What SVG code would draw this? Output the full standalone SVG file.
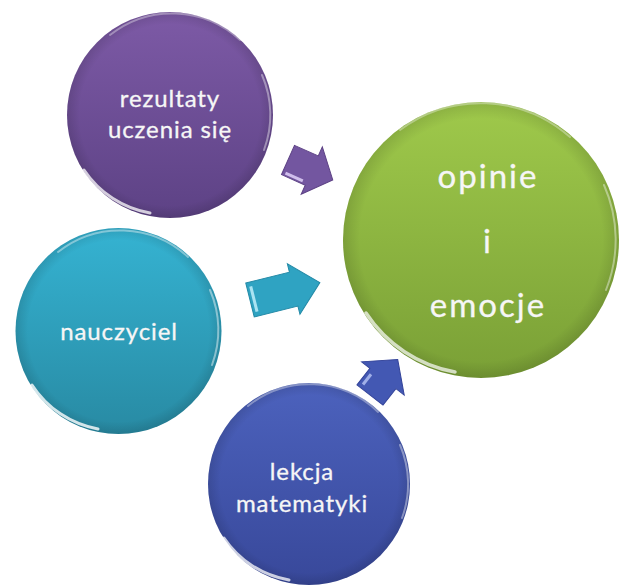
<svg xmlns="http://www.w3.org/2000/svg" width="621" height="587" viewBox="0 0 621 587">
  <defs>
    <linearGradient id="gPurple" x1="0" y1="0" x2="0" y2="1">
      <stop offset="0" stop-color="#7d5aa6"/>
      <stop offset="1" stop-color="#5d4285"/>
    </linearGradient>
    <linearGradient id="gTeal" x1="0" y1="0" x2="0" y2="1">
      <stop offset="0" stop-color="#35b3d2"/>
      <stop offset="1" stop-color="#288aa3"/>
    </linearGradient>
    <linearGradient id="gBlue" x1="0" y1="0" x2="0" y2="1">
      <stop offset="0" stop-color="#4c62bd"/>
      <stop offset="1" stop-color="#38489a"/>
    </linearGradient>
    <linearGradient id="gGreen" x1="0" y1="0" x2="0" y2="1">
      <stop offset="0" stop-color="#9fc94b"/>
      <stop offset="1" stop-color="#7aa036"/>
    </linearGradient>
    <radialGradient id="shade" cx="0.5" cy="0.5" r="0.5">
      <stop offset="0.88" stop-color="#000" stop-opacity="0"/>
      <stop offset="1" stop-color="#000" stop-opacity="0.12"/>
    </radialGradient>
  </defs>
  <style>
    .lbl { font-family: Lato, "Open Sans", "Liberation Sans", sans-serif; fill: #f6f6f6; text-anchor: middle; font-size: 24px; letter-spacing: 0.9px; stroke: #f6f6f6; stroke-width: 0.3px; }
    .big { font-size: 33px; letter-spacing: 2px; }
    .hl { fill: none; stroke: #ffffff; stroke-linecap: round; }
    .arrow { stroke-width: 1; }
  </style>

  <g id="connectors">
    <g transform="translate(288,160) rotate(24)">
      <polygon class="arrow" points="0,-16 26,-16 26,-26 49,0 26,26 26,16 0,16" fill="#7356a0" stroke="#5d4285"/>
      <line x1="3" y1="13" x2="22" y2="13" stroke="#e8d8ff" stroke-width="3" opacity="0.8"/>
    </g>
    <g transform="translate(250,300) rotate(-14)">
      <polygon class="arrow" points="0,-17.5 45,-17.5 45,-26 72,0 45,26 45,17.5 0,17.5" fill="#2fa3c2" stroke="#2389a6"/>
      <line x1="4" y1="-13" x2="4" y2="13" stroke="#c8f4ff" stroke-width="3" opacity="0.8"/>
    </g>
    <g transform="translate(370,395) rotate(-52)">
      <polygon class="arrow" points="0,-16.5 21,-16.5 21,-27 45,0 21,27 21,16.5 0,16.5" fill="#4358b3" stroke="#34449a"/>
      <line x1="4" y1="-12" x2="17" y2="-12" stroke="#c8d4ff" stroke-width="3" opacity="0.7"/>
    </g>
  </g>

  <g id="node-rezultaty">
    <circle cx="170" cy="115" r="103" fill="url(#gPurple)"/>
    <circle cx="170" cy="115" r="103" fill="url(#shade)"/>
    <path class="hl" d="M 84 170 A 100 100 0 0 0 150 213" stroke-width="3" opacity="0.75"/>
    <path class="hl" d="M 110 35 A 100 100 0 0 1 240 40" stroke-width="2" opacity="0.35"/>
    <path class="hl" d="M 262 75 A 100 100 0 0 1 264 150" stroke-width="2" opacity="0.4"/>
    <text class="lbl" x="170" y="107">rezultaty</text>
    <text class="lbl" x="170" y="138">uczenia się</text>
  </g>

  <g id="node-nauczyciel">
    <circle cx="118.5" cy="331" r="103" fill="url(#gTeal)"/>
    <circle cx="118.5" cy="331" r="103" fill="url(#shade)"/>
    <path class="hl" d="M 32 385 A 100 100 0 0 0 98 429" stroke-width="3" opacity="0.8"/>
    <path class="hl" d="M 58 252 A 100 100 0 0 1 188 257" stroke-width="2" opacity="0.4"/>
    <path class="hl" d="M 210 290 A 100 100 0 0 1 212 365" stroke-width="2" opacity="0.45"/>
    <text class="lbl" x="119" y="340">nauczyciel</text>
  </g>

  <g id="node-lekcja">
    <circle cx="309" cy="484" r="101" fill="url(#gBlue)"/>
    <circle cx="309" cy="484" r="101" fill="url(#shade)"/>
    <path class="hl" d="M 224 538 A 98 98 0 0 0 289 580" stroke-width="3" opacity="0.75"/>
    <path class="hl" d="M 248 406 A 98 98 0 0 1 378 412" stroke-width="2" opacity="0.35"/>
    <path class="hl" d="M 400 445 A 98 98 0 0 1 402 518" stroke-width="2" opacity="0.4"/>
    <text class="lbl" x="302" y="480">lekcja</text>
    <text class="lbl" x="302" y="512">matematyki</text>
  </g>

  <g id="node-opinie">
    <circle cx="481" cy="240" r="138" fill="url(#gGreen)"/>
    <circle cx="481" cy="240" r="138" fill="url(#shade)"/>
    <path class="hl" d="M 366 313 A 135 135 0 0 0 455 372" stroke-width="3.5" opacity="0.7"/>
    <path class="hl" d="M 400 130 A 135 135 0 0 1 570 137" stroke-width="2" opacity="0.35"/>
    <path class="hl" d="M 604 185 A 135 135 0 0 1 606 290" stroke-width="2" opacity="0.4"/>
    <text class="lbl big" x="488" y="188">opinie</text>
    <text class="lbl big" x="488" y="253">i</text>
    <text class="lbl big" x="488" y="317">emocje</text>
  </g>
</svg>
